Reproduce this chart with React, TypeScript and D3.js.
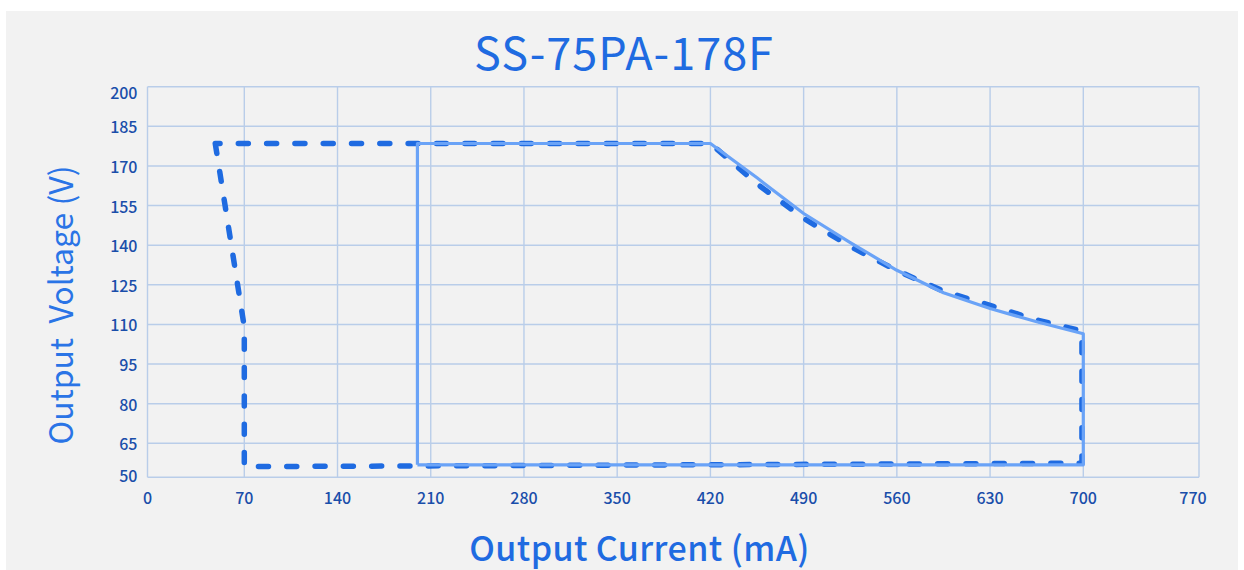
import * as d3 from "d3";

// axis ticks
const xTicks = [0, 70, 140, 210, 280, 350, 420, 490, 560, 630, 700, 770];
const yTicks = [50, 65, 80, 95, 110, 125, 140, 155, 170, 185, 200];

// solid outline (mA / V)
const solidCurrent = [200, 200, 420, 455, 490, 525, 560, 595, 630, 665, 700, 700, 200];
const solidVoltage = [55.5, 178.5, 178.5, 165.5, 152, 141, 130.5, 122, 116, 111, 106.5, 55.5, 55.5];

// dashed outline (mA / V)
const dashCurrent = [49, 70, 70, 699, 699, 665, 630, 595, 560, 525, 490, 455, 420, 49];
const dashVoltage = [178.5, 109, 54.7, 56.2, 107.5, 111.7, 117.2, 122.6, 130.4, 139.5, 150.2, 163.2, 178.5, 178.5];

const W = 1244;
const H = 570;
const FONT = "'Noto Sans CJK SC', 'Noto Sans', sans-serif";

export default function App() {
	// the axes in the picture are not evenly spaced at their ends
	const x = d3.scaleLinear().domain([0, 70, 700, 770]).range([147.5, 244.3, 1083.3, 1199]);
	const y = d3.scaleLinear().domain([50, 65, 200]).range([477.3, 443.3, 86.7]);

	const line = d3
		.line<[number, number]>()
		.x((d) => x(d[0]))
		.y((d) => y(d[1]));

	const solidPts = solidCurrent.map((c, i) => [c, solidVoltage[i]] as [number, number]);
	const dashPts = dashCurrent.map((c, i) => [c, dashVoltage[i]] as [number, number]);

	const [x0, x1] = [x(0), x(770)];
	const [y0, y1] = [y(50), y(200)];

	return (
		<svg
			width={W}
			height={H}
			style={{ position: "absolute", left: 0, top: 0, background: "#fff" }}
			fontFamily={FONT}
		>
			<rect x={6} y={11} width={1232} height={H - 11} fill="#f2f2f2" />

			{/* grid */}
			<g stroke="#b9cde9" strokeWidth={1.4}>
				{xTicks.map((t) => (
					<line key={"gx" + t} x1={x(t)} x2={x(t)} y1={y1} y2={y0} />
				))}
				{yTicks.map((t) => (
					<line key={"gy" + t} x1={x0} x2={x1} y1={y(t)} y2={y(t)} />
				))}
			</g>

			{/* tick labels */}
			<g fill="#1a4eaa" fontSize={16} fontWeight={500}>
				{yTicks.map((t) => (
					<text
						key={"ly" + t}
						x={137.5}
						y={Math.min(Math.max(y(t), 92), 475)}
						textAnchor="end"
						dominantBaseline="central"
					>
						{t}
					</text>
				))}
				{xTicks.map((t) => (
					<text key={"lx" + t} x={Math.min(x(t), 1193)} y={504} textAnchor="middle">
						{t}
					</text>
				))}
			</g>

			{/* dashed outline */}
			<path
				d={line(dashPts) ?? ""}
				fill="none"
				stroke="#1f6be1"
				strokeWidth={5.5}
				strokeDasharray="10 18.3"
				strokeLinecap="round"
				strokeLinejoin="round"
			/>

			{/* solid outline */}
			<path
				d={line(solidPts) ?? ""}
				fill="none"
				stroke="#6aa3f7"
				strokeWidth={3.2}
				strokeLinejoin="round"
			/>

			{/* titles */}
			<text x={624} y={70} textAnchor="middle" fill="#1f6be1" fontSize={45} letterSpacing={1}>
				SS-75PA-178F
			</text>
			<text
				x={639.5}
				y={561}
				textAnchor="middle"
				fill="#1f6be1"
				fontSize={34}
				fontWeight={500}
				letterSpacing={0.4}
			>
				Output Current (mA)
			</text>
			<text
				transform="translate(73,305) rotate(-90)"
				textAnchor="middle"
				fill="#2a74e6"
				fontSize={32}
				style={{ whiteSpace: "pre" }}
			>
				{"Output  Voltage (V)"}
			</text>
		</svg>
	);
}
